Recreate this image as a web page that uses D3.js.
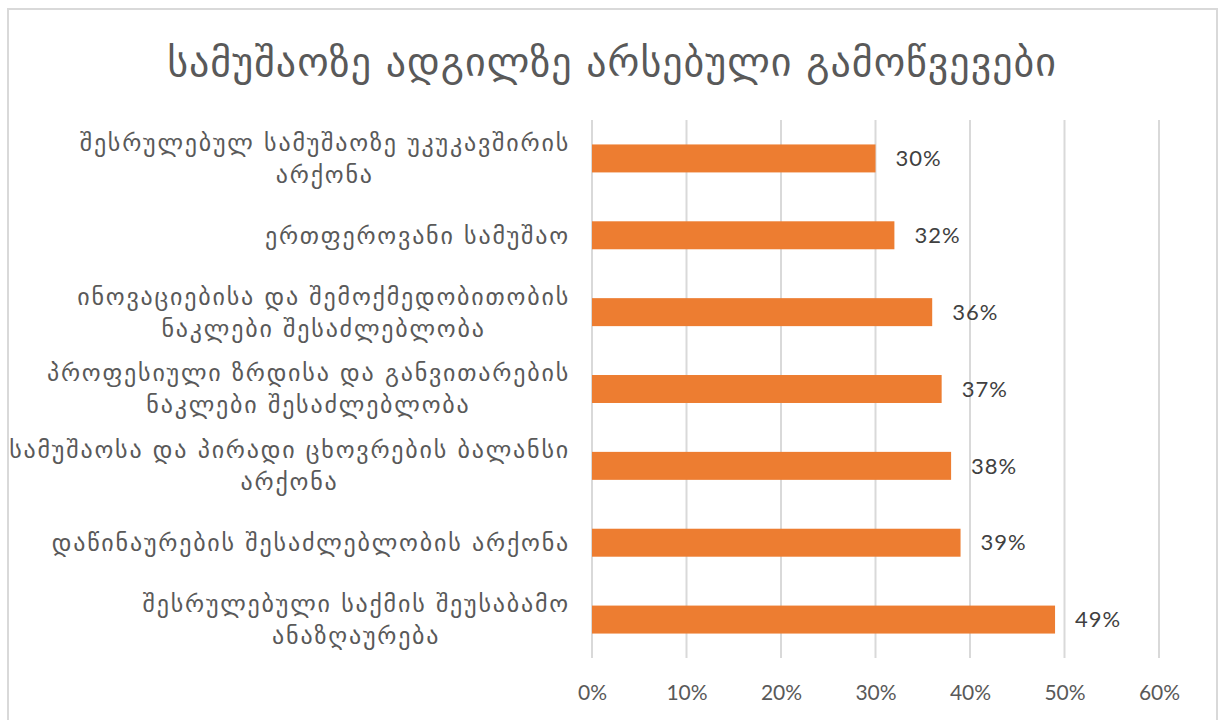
<!DOCTYPE html>
<html>
<head>
<meta charset="utf-8">
<script src="https://cdn.jsdelivr.net/npm/d3@7"></script>
<style>
  html, body { margin: 0; padding: 0; background: #fff; }
  svg { display: block; }
</style>
</head>
<body>
<svg id="chart" width="1219" height="720"></svg>
<script>
// Chart content
const chartTitle = "სამუშაოზე ადგილზე არსებული გამოწვევები";
const categories = [
  ["შესრულებულ სამუშაოზე უკუკავშირის", "არქონა"],
  ["ერთფეროვანი სამუშაო"],
  ["ინოვაციებისა და შემოქმედობითობის", "ნაკლები შესაძლებლობა"],
  ["პროფესიული ზრდისა და განვითარების", "ნაკლები შესაძლებლობა"],
  ["სამუშაოსა და პირადი ცხოვრების ბალანსი", "არქონა"],
  ["დაწინაურების შესაძლებლობის არქონა"],
  ["შესრულებული საქმის შეუსაბამო", "ანაზღაურება"]
];
const values = [0.30, 0.32, 0.36, 0.37, 0.38, 0.39, 0.49];
const tickValues = [0, 0.1, 0.2, 0.3, 0.4, 0.5, 0.6];

const svg = d3.select("#chart");

const georgianFont = "'DejaVu Sans', sans-serif";
const numFont = "Lato, 'Liberation Sans', sans-serif";

// chart frame
svg.append("rect")
  .attr("x", 8).attr("y", 9)
  .attr("width", 1209).attr("height", 730)
  .attr("fill", "#fff")
  .attr("stroke", "#d9d9d9").attr("stroke-width", 2);

// title
svg.append("text")
  .attr("x", 612).attr("y", 76)
  .attr("text-anchor", "middle")
  .attr("font-family", georgianFont)
  .attr("font-size", 40)
  .attr("letter-spacing", 1)
  .attr("fill", "#595959")
  .text(chartTitle);

const plot = { left: 592, right: 1159, top: 120, bottom: 658 };

const x = d3.scaleLinear().domain([0, 0.6]).range([plot.left, plot.right]);
const y = d3.scaleBand()
  .domain(d3.range(categories.length))
  .range([plot.top, plot.bottom])
  .paddingInner(0.636).paddingOuter(0.318);

// vertical gridlines
svg.append("g")
  .selectAll("line")
  .data(tickValues)
  .join("line")
  .attr("x1", d => x(d)).attr("x2", d => x(d))
  .attr("y1", plot.top).attr("y2", plot.bottom)
  .attr("stroke", "#d9d9d9").attr("stroke-width", 2);

// x axis tick labels
const xAxis = d3.axisBottom(x)
  .tickValues(tickValues)
  .tickFormat(d3.format(".0%"))
  .tickSize(0)
  .tickPadding(0);
const gx = svg.append("g")
  .attr("transform", `translate(0, ${plot.bottom + 27})`)
  .call(xAxis);
gx.select(".domain").remove();
gx.selectAll("text")
  .attr("font-family", numFont)
  .attr("font-size", 21)
  .attr("fill", "#595959");

// bars
svg.append("g")
  .selectAll("rect")
  .data(values)
  .join("rect")
  .attr("x", x(0))
  .attr("y", (d, i) => y(i))
  .attr("width", d => x(d) - x(0))
  .attr("height", y.bandwidth())
  .attr("fill", "#ED7D31");

// value labels
svg.append("g")
  .selectAll("text")
  .data(values)
  .join("text")
  .attr("x", d => x(d) + 20)
  .attr("y", (d, i) => y(i) + y.bandwidth() / 2)
  .attr("dy", "0.35em")
  .attr("font-family", numFont)
  .attr("font-size", 22)
  .attr("letter-spacing", 1)
  .attr("fill", "#404040")
  .text(d => d3.format(".0%")(d));

// category labels: wrapped lines centred within a right-aligned block
const labelRight = 570;
const lineH = 32;
const catG = svg.append("g");
categories.forEach((lines, i) => {
  const cy = y(i) + y.bandwidth() / 2;
  const t = catG.append("text")
    .attr("font-family", georgianFont)
    .attr("font-size", 24)
    .attr("letter-spacing", 1.8)
    .attr("fill", "#595959")
    .attr("text-anchor", "middle");
  const spans = lines.map(ln => t.append("tspan").text(ln));
  const maxW = d3.max(spans, s => s.node().getComputedTextLength());
  const cx = labelRight - maxW / 2;
  const y0 = cy - (lines.length - 1) * lineH / 2;
  spans.forEach((s, k) => s.attr("x", cx).attr("y", y0 + k * lineH).attr("dy", "0.35em"));
});
</script>
</body>
</html>
